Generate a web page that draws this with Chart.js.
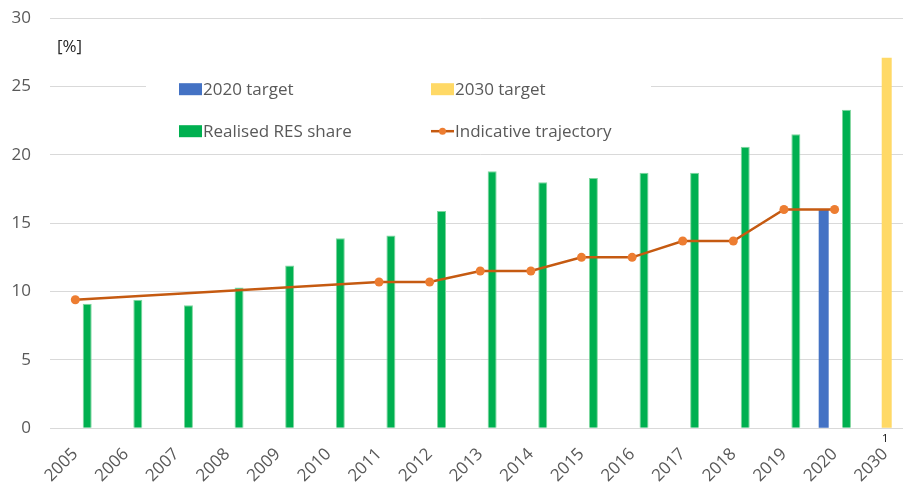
<!DOCTYPE html>
<html lang="en">
<head>
    <meta charset="UTF-8">
    <title>RES share</title>
    <script src="https://cdn.jsdelivr.net/npm/chart.js"></script>
    <style>
        * { margin: 0; padding: 0; box-sizing: border-box; }
        html, body { width: 903px; height: 487px; overflow: hidden; background: #fff; }
        /* plot runs a little past the right edge, like the cropped original */
        .chart-box { width: 915px; height: 487px; position: relative; }
    </style>
</head>
<body>
    <div class="chart-box">
        <canvas id="resChart"></canvas>
    </div>

    <script>
        // data
        const years = ['2005', '2006', '2007', '2008', '2009', '2010', '2011', '2012', '2013',
                       '2014', '2015', '2016', '2017', '2018', '2019', '2020', '2030'];
        const realisedShare = [9.1, 9.4, 9.0, 10.3, 11.9, 13.9, 14.1, 15.9, 18.8,
                               18.0, 18.3, 18.7, 18.7, 20.6, 21.5, 23.3, null];
        const target2020 = [null, null, null, null, null, null, null, null, null,
                            null, null, null, null, null, null, 16.0, null];
        const target2030 = [null, null, null, null, null, null, null, null, null,
                            null, null, null, null, null, null, null, 27.1];
        const trajectory = [9.4, null, null, null, null, null, 10.7, 10.7, 11.5,
                            11.5, 12.5, 12.5, 13.7, 13.7, 16.0, 16.0, null];
        const yMin = 0, yMax = 30, yStep = 5;
        const footnote = '1';

        const textGrey = '#595959';
        const fontName = "'Open Sans', sans-serif";
        const plotTop = 18;   // where the 30 line sits on the page
        const pageH = 487;

        // bars sit a bit off the category centre (Excel cluster look), in category units
        const shiftBlue = -0.215, shiftGreen = 0.235, shiftGold = 0.03;

        const asPoints = arr => arr.map((v, i) => ({ x: i, y: v }));

        // hidden linear axis lined up with the category axis, moved by `shift`
        function barAxis(shift) {
            return {
                type: 'linear',
                display: false,
                offset: false,
                min: -0.5 - shift,
                max: years.length - 0.5 - shift
            };
        }

        // legend + unit label + footnote, drawn over the grid (page coordinates)
        const extras = {
            id: 'extras',
            afterDraw(chart) {
                const ctx = chart.ctx;
                ctx.save();
                ctx.translate(0, chart.chartArea.top - plotTop);

                ctx.fillStyle = '#fff';
                ctx.fillRect(146, 62, 505, 88);

                ctx.font = '17px ' + fontName;
                ctx.textBaseline = 'middle';
                ctx.textAlign = 'left';

                const items = [
                    { x: 179, y: 89, label: '2020 target', color: '#4472C4' },
                    { x: 431, y: 89, label: '2030 target', color: '#FFD966' },
                    { x: 179, y: 131, label: 'Realised RES share', color: '#00B050' },
                    { x: 431, y: 131, label: 'Indicative trajectory', line: true }
                ];
                items.forEach(it => {
                    if (it.line) {
                        ctx.strokeStyle = '#C55A11';
                        ctx.lineWidth = 2.5;
                        ctx.beginPath();
                        ctx.moveTo(it.x, it.y);
                        ctx.lineTo(it.x + 23, it.y);
                        ctx.stroke();
                        ctx.fillStyle = '#ED7D31';
                        ctx.beginPath();
                        ctx.arc(it.x + 11.5, it.y, 3.5, 0, Math.PI * 2);
                        ctx.fill();
                    } else {
                        ctx.fillStyle = it.color;
                        ctx.fillRect(it.x, it.y - 6, 23, 12);
                    }
                    ctx.fillStyle = textGrey;
                    ctx.fillText(it.label, it.x + 24, it.y + 1);
                });

                ctx.fillStyle = '#262626';
                ctx.font = '17px ' + fontName;
                ctx.fillText('[%]', 57, 47);

                const xs = chart.scales.x;
                ctx.fillStyle = '#000';
                ctx.font = '11px ' + fontName;
                ctx.textAlign = 'center';
                ctx.fillText(footnote, xs.getPixelForValue(years.length - 1), 439);
                ctx.restore();
            }
        };

        const chart = new Chart(document.getElementById('resChart').getContext('2d'), {
            data: {
                labels: years,
                datasets: [
                    {
                        type: 'line',
                        label: 'Indicative trajectory',
                        data: trajectory,
                        borderColor: '#C55A11',
                        borderWidth: 2.5,
                        pointRadius: 4.5,
                        pointBackgroundColor: '#ED7D31',
                        pointBorderColor: '#ED7D31',
                        pointBorderWidth: 0,
                        spanGaps: true,
                        order: 0
                    },
                    {
                        type: 'bar',
                        label: '2020 target',
                        data: asPoints(target2020),
                        xAxisID: 'xBlue',
                        backgroundColor: '#4472C4',
                        grouped: false,
                        barPercentage: 1,
                        maxBarThickness: 10,
                        order: 1
                    },
                    {
                        type: 'bar',
                        label: 'Realised RES share',
                        data: asPoints(realisedShare),
                        xAxisID: 'xGreen',
                        backgroundColor: '#00B050',
                        borderColor: '#7FD69E',
                        borderWidth: 1,
                        grouped: false,
                        barPercentage: 1,
                        maxBarThickness: 9,
                        order: 1
                    },
                    {
                        type: 'bar',
                        label: '2030 target',
                        data: asPoints(target2030),
                        xAxisID: 'xGold',
                        backgroundColor: '#FFD966',
                        grouped: false,
                        barPercentage: 1,
                        maxBarThickness: 10,
                        order: 1
                    }
                ]
            },
            options: {
                responsive: true,
                maintainAspectRatio: false,
                animation: false,
                layout: { padding: { top: 0, right: 1, left: 0, bottom: 0 } },
                plugins: {
                    legend: { display: false },
                    tooltip: { enabled: false }
                },
                scales: {
                    x: {
                        type: 'category',
                        offset: true,
                        grid: { display: false },
                        border: { display: false },
                        ticks: {
                            color: textGrey,
                            font: { family: fontName, size: 17 },
                            maxRotation: 45,
                            minRotation: 45,
                            padding: 8,
                            autoSkip: false
                        },
                        afterFit(scale) { scale.height = 59; }
                    },
                    xBlue: barAxis(shiftBlue),
                    xGreen: barAxis(shiftGreen),
                    xGold: barAxis(shiftGold),
                    y: {
                        min: yMin,
                        max: yMax,
                        border: { display: false },
                        grid: { color: '#D9D9D9', lineWidth: 1, drawTicks: false },
                        ticks: {
                            stepSize: yStep,
                            color: textGrey,
                            font: { family: fontName, size: 17 },
                            padding: 19
                        },
                        afterFit(scale) { scale.width = 50; }
                    }
                }
            },
            plugins: [extras]
        });

        // Chart.js keeps some room above the top tick; lift the canvas so the
        // 30 line lands where the original has it, bottom axis stays put
        const lift = chart.chartArea.top - plotTop;
        if (lift > 0.5) {
            const box = document.querySelector('.chart-box');
            box.style.marginTop = (-lift) + 'px';
            box.style.height = (pageH + lift) + 'px';
            chart.resize();
        }
    </script>
</body>
</html>
